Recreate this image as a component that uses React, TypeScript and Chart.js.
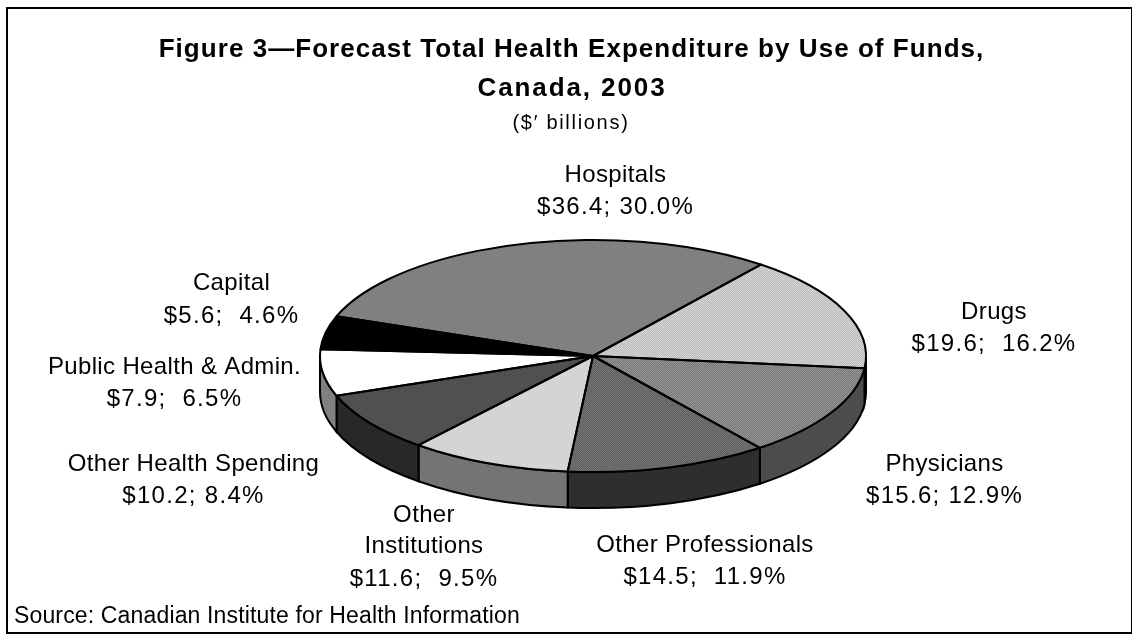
import { useEffect, useRef } from "react";
import { Chart, registerables } from "chart.js";

Chart.register(...registerables);

// Forecast spending by use of funds, in billions of dollars and as a share of the total.
const sliceNames = [
  "Hospitals",
  "Drugs",
  "Physicians",
  "Other Professionals",
  "Other Institutions",
  "Other Health Spending",
  "Public Health & Admin.",
  "Capital",
];
const amounts = [36.4, 19.6, 15.6, 14.5, 11.6, 10.2, 7.9, 5.6];
const shares = [30.0, 16.2, 12.9, 11.9, 9.5, 8.4, 6.5, 4.6];

const titleLines = [
  "Figure 3\u2014Forecast Total Health Expenditure by Use of Funds,",
  "Canada, 2003",
];
const subtitle = "($\u2032 billions)";
const sourceNote = "Source: Canadian Institute for Health Information";

// Styling of the slices: [light, dark] dither colours for the top face, and the rim colour.
const faceTones = [
  ["#8c8c8c", "#747474"],
  ["#dcdcdc", "#b4b4b4"],
  ["#a0a0a0", "#6c6c6c"],
  ["#7c7c7c", "#585858"],
  ["#e4e4e4", "#c4c4c4"],
  ["#606060", "#404040"],
  ["#ffffff", "#ffffff"],
  ["#000000", "#000000"],
];
const rimTones = ["#4a4a4a", "#111111", "#4c4c4c", "#2e2e2e", "#747474", "#282828", "#808080", "#000000"];

// Label layout: wrapped name, separator spacing, centre x and the baseline of each line.
const labelNameLines = [
  ["Hospitals"],
  ["Drugs"],
  ["Physicians"],
  ["Other Professionals"],
  ["Other", "Institutions"],
  ["Other Health Spending"],
  ["Public Health & Admin."],
  ["Capital"],
];
const labelGaps = [" ", "  ", " ", "  ", "  ", " ", "  ", "  "];
const labelCentres = [615.5, 994, 944.5, 705, 424, 193.5, 174.5, 231.5];
const labelBaselines = [
  [182, 214],
  [319, 351],
  [471, 503],
  [552, 584],
  [522, 553, 586],
  [471, 503],
  [374, 406],
  [290, 323],
];

const FONT = '"Liberation Sans", Arial, sans-serif';
const TILT = 116 / 273;
const RIM_DEPTH = 36;
const CENTRE_Y = 356;

function makeDither(light: string, dark: string, ctx: CanvasRenderingContext2D) {
  const tile = document.createElement("canvas");
  tile.width = 2;
  tile.height = 2;
  const t = tile.getContext("2d")!;
  t.fillStyle = light;
  t.fillRect(0, 0, 2, 2);
  t.fillStyle = dark;
  t.fillRect(0, 0, 1, 1);
  t.fillRect(1, 1, 1, 1);
  const pattern = ctx.createPattern(tile, "repeat")!;
  // The top face is painted under a vertical squash, so the tile is stretched back.
  pattern.setTransform(new DOMMatrix([1, 0, 0, 1 / TILT, 0, 0]));
  return pattern;
}

function drawText(
  ctx: CanvasRenderingContext2D,
  text: string,
  x: number,
  y: number,
  font: string,
  spacing: number,
  align: CanvasTextAlign = "center",
) {
  ctx.font = font;
  (ctx as any).letterSpacing = `${spacing}px`;
  ctx.textAlign = align;
  ctx.textBaseline = "alphabetic";
  ctx.fillStyle = "#000000";
  ctx.fillText(text, x, y);
}

function arcsOf(chart: Chart) {
  return chart.getDatasetMeta(0).data.map((el: any) =>
    el.getProps(["x", "y", "startAngle", "endAngle", "outerRadius"], true),
  );
}

// Rim of the disc, squashing applied to the path only so strokes keep an even width.
const rimPlugin = {
  id: "pieRim",
  beforeDatasetsDraw(chart: Chart) {
    const ctx = chart.ctx;
    arcsOf(chart).forEach((a: any, i: number) => {
      const ry = a.outerRadius * TILT;
      for (let k = -1; k <= 1; k++) {
        const from = Math.max(a.startAngle, k * 2 * Math.PI);
        const to = Math.min(a.endAngle, k * 2 * Math.PI + Math.PI);
        if (to <= from) continue;
        ctx.beginPath();
        ctx.ellipse(a.x, a.y, a.outerRadius, ry, 0, from, to);
        ctx.ellipse(a.x, a.y + RIM_DEPTH, a.outerRadius, ry, 0, to, from, true);
        ctx.closePath();
        ctx.fillStyle = rimTones[i];
        ctx.fill();
        ctx.strokeStyle = "#000000";
        ctx.lineWidth = 2;
        ctx.stroke();
      }
    });
    ctx.save();
    const cy = arcsOf(chart)[0].y;
    ctx.translate(0, cy);
    ctx.scale(1, TILT);
    ctx.translate(0, -cy);
  },
  afterDatasetsDraw(chart: Chart) {
    const ctx = chart.ctx;
    ctx.restore();
    ctx.strokeStyle = "#000000";
    ctx.lineWidth = 2;
    ctx.lineJoin = "round";
    arcsOf(chart).forEach((a: any) => {
      const ry = a.outerRadius * TILT;
      ctx.beginPath();
      ctx.moveTo(a.x, a.y);
      ctx.ellipse(a.x, a.y, a.outerRadius, ry, 0, a.startAngle, a.endAngle);
      ctx.closePath();
      ctx.stroke();
    });
  },
};

// Frame, headings, slice labels and the source line.
const textPlugin = {
  id: "figureText",
  beforeDraw(chart: Chart) {
    const ctx = chart.ctx;
    ctx.save();
    ctx.fillStyle = "#ffffff";
    ctx.fillRect(0, 0, chart.width, chart.height);
    ctx.fillStyle = "#000000";
    ctx.fillRect(6, 7, 1126, 2);
    ctx.fillRect(6, 7, 2, 627);
    ctx.fillRect(1131, 7, 1, 627);
    ctx.fillRect(6, 632, 1126, 2);
    ctx.restore();
  },
  afterDraw(chart: Chart) {
    const ctx = chart.ctx;
    ctx.save();
    const bold = `bold 26px ${FONT}`;
    const regular = `24px ${FONT}`;
    drawText(ctx, titleLines[0], 571.5, 57, bold, 1.05);
    drawText(ctx, titleLines[1], 572, 96, bold, 1.9);
    drawText(ctx, subtitle, 571, 129, `20px ${FONT}`, 1.7);
    sliceNames.forEach((_, i) => {
      const names = labelNameLines[i];
      names.forEach((line, j) => {
        drawText(ctx, line, labelCentres[i], labelBaselines[i][j], regular, 0.35);
      });
      const value = `$${amounts[i].toFixed(1)};${labelGaps[i]}${shares[i].toFixed(1)}%`;
      drawText(ctx, value, labelCentres[i], labelBaselines[i][names.length], regular, 1.3);
    });
    drawText(ctx, sourceNote, 14, 623, `23px ${FONT}`, 0.15, "left");
    ctx.restore();
  },
};

export default function App() {
  const ref = useRef<HTMLCanvasElement>(null);

  useEffect(() => {
    document.body.style.margin = "0";
    const canvas = ref.current!;
    const ctx = canvas.getContext("2d")!;
    const chart = new Chart(canvas, {
      type: "pie",
      data: {
        labels: sliceNames,
        datasets: [
          {
            data: amounts,
            backgroundColor: faceTones.map(([l, d]) => makeDither(l, d, ctx)),
            borderWidth: 0,
            clip: false,
          } as any,
        ],
      },
      options: {
        animation: false,
        responsive: false,
        rotation: -70,
        layout: {
          padding: { left: 320, right: 1133 - 866, top: CENTRE_Y - 273, bottom: 634 - CENTRE_Y - 273 },
        },
        plugins: { legend: { display: false }, tooltip: { enabled: false } },
      },
      plugins: [textPlugin, rimPlugin],
    });
    return () => chart.destroy();
  }, []);

  return <canvas ref={ref} width={1133} height={634} style={{ display: "block" }} />;
}
